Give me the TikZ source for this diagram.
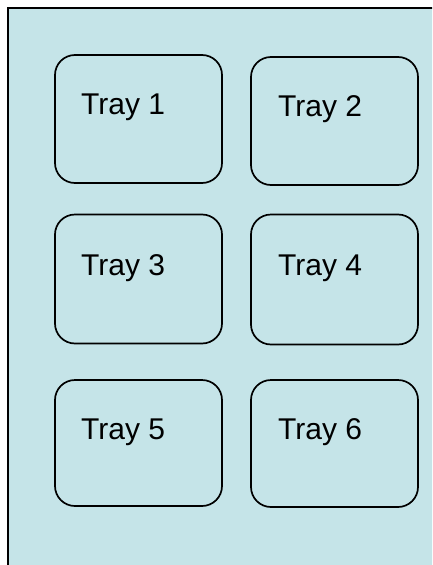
\documentclass[tikz,border=0pt]{standalone}
\usepackage{fontspec}
\setmainfont{Liberation Sans}
\definecolor{traybg}{RGB}{197,228,232}
\begin{document}
\begin{tikzpicture}[x=1pt,y=-1pt,
  tray/.style={draw=black,line width=1.7pt,rounded corners=20pt,rectangle,minimum width=167pt,inner sep=0pt},
  lbl/.style={anchor=base west,inner sep=0pt,font=\fontsize{30}{36}\selectfont}]
\useasboundingbox (0,0) rectangle (432,565);
\fill[white] (0,0) rectangle (432,565);
\begin{scope}
\clip (0,0) rectangle (432,565);
\node[draw=black,fill=traybg,line width=2.2pt,rectangle,inner sep=0pt,anchor=north west,minimum width=440pt,minimum height=570pt] (frame) at (6.8,6.8) {};
\end{scope}
\node[tray,minimum height=128pt] (t1) at (138.5,119) {};
\node[tray,minimum height=128pt] (t2) at (334.5,121) {};
\node[tray,minimum height=129pt] (t3) at (138.5,279) {};
\node[tray,minimum height=130pt] (t4) at (334.5,279.5) {};
\node[tray,minimum height=126pt] (t5) at (138.5,443) {};
\node[tray,minimum height=127pt] (t6) at (334.5,443.5) {};
\node[lbl] (l1) at (81,114) {Tray 1};
\node[lbl] (l2) at (278,116) {Tray 2};
\node[lbl] (l3) at (81,275) {Tray 3};
\node[lbl] (l4) at (278,275) {Tray 4};
\node[lbl] (l5) at (81,439) {Tray 5};
\node[lbl] (l6) at (278,439) {Tray 6};
\end{tikzpicture}
\end{document}
